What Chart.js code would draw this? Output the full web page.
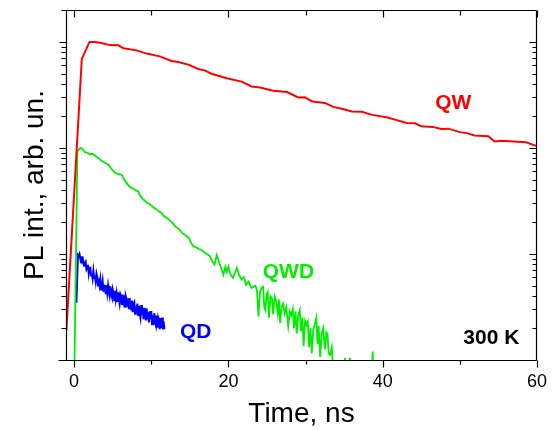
<!DOCTYPE html>
<html>
<head>
<meta charset="utf-8">
<script src="https://cdn.jsdelivr.net/npm/chart.js@4/dist/chart.umd.min.js"></script>
<style>html,body{margin:0;padding:0;background:#fff;}canvas{display:block;}</style>
</head>
<body>
<canvas id="c" width="558" height="430"></canvas>
<script>
// ---- data (time in ns, PL intensity in arb. units) ----
const qwTime = [-1.0, 1.0, 2.0, 2.7, 3.5, 4.66, 5.74, 6.4, 8.1, 9.4, 11.1, 12.65, 13.5, 14.8, 16.1, 17.0, 17.8, 19.8, 21.7, 23.0, 24.1, 25.8, 27.6, 29.05, 29.9, 30.9, 32.5, 33.6, 34.7, 36.0, 37.3, 38.6, 40.5, 41.6, 43.1, 44.2, 45.0, 46.5, 47.6, 48.5, 50.0, 50.9, 51.9, 53.7, 54.5, 55.4, 56.9, 58.6, 59.5, 60.0];
const qwVal  = [1.9, 692, 1000, 1000, 977, 933, 929, 871, 832, 776, 731, 661, 646, 611, 556, 536, 501, 454, 422, 380, 372, 347, 337, 299, 300, 274, 266, 244, 234, 221, 219, 205, 195, 185, 172, 171, 160, 158, 151, 152, 141, 138, 131, 129, 115, 117, 115, 113, 107, 104];

const qwdTime = [-0.5, 0.0, 0.43, 0.8, 1.1, 1.4, 1.7, 2.0, 2.3, 2.6, 2.9, 3.2, 3.5, 3.8, 4.1, 4.4, 4.7, 5.0, 5.3, 5.6, 5.9, 6.2, 6.5, 6.8, 7.1, 7.4, 7.7, 8.0, 8.3, 8.6, 8.9, 9.2, 9.5, 9.8, 10.1, 10.4, 10.7, 11.0, 11.3, 11.6, 11.9, 12.2, 12.5, 12.8, 13.1, 13.4, 13.7, 14.0, 14.3, 14.6, 14.9, 15.2, 15.5, 15.8, 16.1, 16.4, 16.7, 17.0, 17.3, 17.6, 17.9, 18.2, 18.5, 18.8, 19.1, 19.35, 19.6, 19.8, 20.0, 20.3, 20.6, 20.85, 21.1, 21.4, 21.7, 22.0, 22.3, 22.6, 23.0, 23.2, 23.5, 23.7, 23.9, 24.1, 24.3, 24.5, 24.65, 24.8, 24.95, 25.1, 25.25, 25.45, 25.65, 25.8, 26.0, 26.2, 26.4, 26.55, 26.7, 26.9, 27.1, 27.3, 27.5, 27.75, 27.95, 28.15, 28.35, 28.5, 28.7, 28.85, 29.05, 29.25, 29.4, 29.6, 29.75, 29.95, 30.15, 30.3, 30.45, 30.65, 30.8, 31.0, 31.2, 31.4, 31.55, 31.7, 31.9, 32.1, 32.3, 32.5, 32.7, 32.85, 33.0, 33.2, 33.4, 33.6, 33.9, 34.5, 35.0, 35.1, 35.2, 35.6, 35.75, 35.9, 38.5, 38.7, 38.9, 39.5];
const qwdVal  = [0.3, 0.5, 93, 100, 97.7, 91.2, 90.2, 87.1, 88.1, 86.1, 82.2, 80.4, 75.9, 74.1, 71.6, 70.0, 65.3, 61.7, 58.2, 56.9, 56.5, 55.6, 50.1, 46.8, 43.7, 42.2, 41.2, 39.8, 38.9, 35.1, 33.1, 31.6, 30.2, 29.5, 28.2, 27.2, 26.2, 25.1, 24.5, 22.9, 22.1, 21.4, 20.4, 19.5, 18.2, 17.6, 16.8, 15.8, 15.3, 14.7, 14.1, 12.6, 11.7, 11.6, 11.2, 11.0, 10.6, 10.2, 9.89, 9.55, 8.51, 7.94, 9.77, 8.32, 7.24, 6.38, 7.59, 6.76, 7.64, 6.31, 5.94, 6.61, 7.38, 6.31, 5.71, 6.03, 5.13, 5.50, 4.78, 4.90, 5.01, 4.57, 2.57, 4.37, 4.84, 4.90, 3.16, 2.95, 4.17, 4.37, 2.51, 3.98, 3.80, 2.69, 3.98, 3.63, 2.75, 3.72, 2.24, 3.16, 3.39, 2.75, 3.16, 2.09, 2.88, 2.63, 3.02, 2.00, 2.88, 1.78, 2.63, 2.95, 1.86, 2.51, 1.35, 2.34, 2.14, 2.29, 1.32, 2.00, 1.15, 1.91, 2.19, 2.51, 1.41, 2.09, 1.07, 1.78, 2.00, 1.26, 1.82, 1.74, 1.15, 1.12, 1.32, 0.79, 0.5, 0.4, 0.8, 1.05, 0.63, 0.63, 1.05, 0.63, 0.5, 1.2, 0.5, 0.4];

const qdTime = [0.3, 0.5, 0.6, 0.7, 0.8, 0.9, 1.0, 1.1, 1.2, 1.3, 1.4, 1.5, 1.6, 1.7, 1.8, 1.9, 2.0, 2.1, 2.2, 2.3, 2.4, 2.5, 2.6, 2.7, 2.8, 2.9, 3.0, 3.1, 3.2, 3.3, 3.4, 3.5, 3.6, 3.7, 3.8, 3.9, 4.0, 4.1, 4.2, 4.3, 4.4, 4.5, 4.6, 4.7, 4.8, 4.9, 5.0, 5.1, 5.2, 5.3, 5.4, 5.5, 5.6, 5.7, 5.8, 5.9, 6.0, 6.1, 6.2, 6.3, 6.4, 6.5, 6.6, 6.7, 6.8, 6.9, 7.0, 7.1, 7.2, 7.3, 7.4, 7.5, 7.6, 7.7, 7.8, 7.9, 8.0, 8.1, 8.2, 8.3, 8.4, 8.5, 8.6, 8.7, 8.8, 8.9, 9.0, 9.1, 9.2, 9.3, 9.4, 9.5, 9.6, 9.7, 9.8, 9.9, 10.0, 10.1, 10.2, 10.3, 10.4, 10.5, 10.6, 10.7, 10.8, 10.9, 11.0, 11.1, 11.2, 11.3, 11.4, 11.5, 11.6, 11.7];
const qdVal  = [3.47, 9.77, 9.55, 10.0, 9.12, 8.32, 9.33, 9.33, 8.13, 7.76, 8.32, 8.51, 7.14, 7.38, 7.91, 6.56, 7.35, 7.41, 6.25, 6.58, 5.87, 6.92, 5.94, 6.28, 5.51, 6.53, 6.07, 5.04, 5.89, 5.11, 5.78, 4.62, 4.89, 5.53, 4.40, 5.04, 5.08, 4.17, 5.08, 4.29, 5.04, 4.40, 4.02, 4.95, 4.16, 3.92, 4.63, 4.27, 3.67, 4.51, 3.75, 4.25, 3.53, 4.34, 3.75, 3.39, 4.14, 3.93, 3.31, 4.14, 3.49, 3.72, 3.18, 3.97, 3.72, 3.18, 3.82, 3.02, 3.84, 3.18, 2.99, 3.63, 2.82, 3.40, 3.52, 2.73, 3.21, 2.77, 3.41, 2.65, 3.24, 2.79, 2.52, 3.30, 2.65, 3.09, 2.43, 3.10, 2.67, 2.36, 3.08, 2.42, 2.81, 2.26, 2.88, 2.43, 2.89, 2.17, 2.64, 2.17, 2.77, 2.23, 2.11, 2.63, 2.02, 2.51, 2.37, 1.95, 2.49, 2.01, 2.51, 1.94, 2.31, 1.95];

const xTickValues = [0, 10, 20, 30, 40, 50, 60];
const xTickLabels = [0, 20, 40, 60];
const yDecades = [1, 10, 100, 1000];

const seriesLabels = [
  {text: 'QW',    t: 46.8,  v: 233,  color: '#ff0000'},
  {text: 'QWD',   t: 24.45, v: 5.94, color: '#00ee00'},
  {text: 'QD',    t: 13.73, v: 1.6,  color: '#0000ff'},
  {text: '300 K', t: 50.45, v: 1.42, color: '#000000'}
];

const FONT = '"Liberation Sans", Arial, sans-serif';

function pts(t, v) { return t.map((x, i) => ({x: x, y: v[i]})); }

const framePlugin = {
  id: 'frame',
  afterDatasetsDraw(chart) {
    const {ctx, chartArea: a, scales: {x, y}} = chart;
    ctx.save();
    ctx.strokeStyle = '#000';
    ctx.lineWidth = 1.2;
    const L = Math.round(a.left) + 0.5, R = Math.round(a.right) - 0.5;
    const T = Math.round(a.top) + 0.5, B = Math.round(a.bottom) + 0.5;
    ctx.beginPath();
    ctx.moveTo(L, T); ctx.lineTo(L, B);
    ctx.moveTo(R, T); ctx.lineTo(R, B);
    ctx.moveTo(L - 4, T); ctx.lineTo(R, T);
    ctx.moveTo(L - 8, B); ctx.lineTo(R, B);
    xTickValues.forEach(v => {
      const px = Math.round(x.getPixelForValue(v)) + 0.5;
      const major = xTickLabels.includes(v);
      ctx.moveTo(px, B); ctx.lineTo(px, B + (major ? 7 : 4));
      ctx.moveTo(px, T); ctx.lineTo(px, T + (major ? 7 : 5));
    });
    yDecades.forEach(d => {
      for (let k = 1; k <= 9; k++) {
        const v = d * k;
        if (v > y.max) break;
        const py = Math.round(y.getPixelForValue(v)) + 0.5;
        const major = k === 1;
        ctx.moveTo(L - (major ? 7 : 5), py); ctx.lineTo(L, py);
        ctx.moveTo(R - (major ? 7 : 4), py); ctx.lineTo(R, py);
      }
    });
    ctx.stroke();
    ctx.font = 'bold 21px ' + FONT;
    ctx.textAlign = 'left';
    ctx.textBaseline = 'alphabetic';
    seriesLabels.forEach(l => {
      ctx.fillStyle = l.color;
      ctx.fillText(l.text, x.getPixelForValue(l.t), y.getPixelForValue(l.v));
    });
    ctx.restore();
  }
};

new Chart(document.getElementById('c'), {
  type: 'line',
  data: {
    datasets: [
      {label: 'QW', data: pts(qwTime, qwVal), borderColor: '#ff0000', borderWidth: 2},
      {label: 'QWD', data: pts(qwdTime, qwdVal), borderColor: '#00ee00', borderWidth: 1.8},
      {label: 'QD', data: pts(qdTime, qdVal), borderColor: '#0000ff', borderWidth: 2}
    ]
  },
  options: {
    responsive: false,
    animation: false,
    devicePixelRatio: 1,
    layout: {padding: {top: 10, right: 21, left: 0, bottom: 0}},
    elements: {point: {radius: 0, hoverRadius: 0}, line: {tension: 0, fill: false}},
    plugins: {legend: {display: false}, tooltip: {enabled: false}},
    scales: {
      x: {
        type: 'linear', position: 'bottom', min: -1.05, max: 60,
        afterFit: s => { s.height = 70; },
        afterBuildTicks: s => { s.ticks = xTickLabels.map(v => ({value: v})); },
        grid: {display: false, drawTicks: false},
        border: {display: false},
        ticks: {padding: 11, maxRotation: 0, autoSkip: false, color: '#000',
                font: {family: FONT, size: 18}},
        title: {display: true, text: 'Time, ns', color: '#000',
                font: {family: FONT, size: 28, lineHeight: 1.1}, padding: {top: 0, bottom: 0}}
      },
      y: {
        type: 'logarithmic', position: 'left', min: 1, max: 2000,
        afterFit: s => { s.width = 66; },
        grid: {display: false, drawTicks: false},
        border: {display: false},
        ticks: {display: false},
        title: {display: true, text: 'PL int., arb. un.', color: '#000',
                font: {family: FONT, size: 28}, padding: {top: 18, bottom: 0}}
      }
    }
  },
  plugins: [framePlugin]
});
</script>
</body>
</html>
